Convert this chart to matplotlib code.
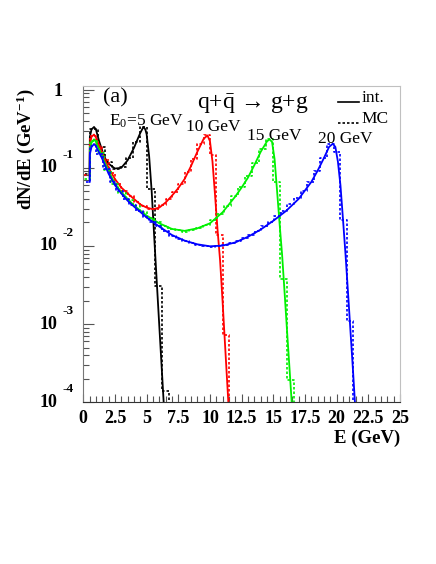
import numpy as np
import matplotlib
matplotlib.use('Agg')
import matplotlib.pyplot as plt
from matplotlib.ticker import LogLocator, NullFormatter

plt.rcParams['font.family'] = ['Liberation Serif', 'DejaVu Serif']
plt.rcParams['mathtext.fontset'] = 'custom'
plt.rcParams['mathtext.rm'] = 'Liberation Serif'
plt.rcParams['mathtext.it'] = 'Liberation Serif:italic'
plt.rcParams['mathtext.bf'] = 'Liberation Serif:bold'

# integrated spectra (solid), E in GeV
e_black = [0.5, 0.52, 0.65, 0.85, 1.0, 1.25, 1.5, 1.75, 2.0, 2.5, 3.0, 3.5, 4.0, 4.25, 4.5,
           4.75, 4.9, 5.0, 5.2, 5.4, 5.6, 5.8, 6.0, 6.2, 6.4]
v_black = [0.083, 0.25, 0.31, 0.334, 0.31, 0.22, 0.165, 0.13, 0.113, 0.098, 0.1, 0.125, 0.18,
           0.225, 0.28, 0.335, 0.31, 0.27, 0.14, 0.05, 0.013, 0.0035, 0.00095, 0.00026, 0.00007]

e_red = [0.5, 0.52, 0.65, 0.85, 1.0, 1.5, 2.0, 2.5, 3.0, 3.5, 4.0, 4.5, 5.0, 5.5, 6.0, 6.5, 7.0,
         7.5, 8.0, 8.5, 9.0, 9.5, 9.8, 10.0, 10.2, 10.4, 10.6, 10.8, 11.0, 11.2, 11.45]
v_red = [0.08, 0.2, 0.25, 0.267, 0.245, 0.155, 0.1, 0.072, 0.056, 0.047, 0.04, 0.034, 0.031,
         0.0295, 0.031, 0.036, 0.044, 0.055, 0.072, 0.105, 0.16, 0.235, 0.26, 0.22, 0.12, 0.045,
         0.016, 0.0065, 0.0019, 0.00051, 0.0001]

e_green = [0.5, 0.52, 0.65, 0.85, 1.0, 1.5, 2.0, 2.5, 3.0, 3.5, 4.0, 5.0, 6.0, 7.0, 8.0, 9.0,
           10.0, 11.0, 12.0, 12.5, 13.0, 13.5, 14.0, 14.5, 14.7, 14.9, 15.1, 15.3, 15.5, 15.7,
           15.9, 16.1, 16.3, 16.5]
v_green = [0.073, 0.17, 0.21, 0.232, 0.215, 0.14, 0.09, 0.063, 0.049, 0.04, 0.033, 0.0245,
           0.0195, 0.0165, 0.0156, 0.0168, 0.0195, 0.027, 0.043, 0.056, 0.075, 0.108, 0.16,
           0.218, 0.232, 0.215, 0.13, 0.05, 0.019, 0.0075, 0.0024, 0.00075, 0.00024, 0.000075]

e_blue = [0.5, 0.52, 0.65, 0.85, 1.0, 1.5, 2.0, 2.5, 3.0, 3.5, 4.0, 5.0, 6.0, 7.0, 8.0, 9.0,
          10.0, 11.0, 12.0, 13.0, 14.0, 15.0, 16.0, 17.0, 18.0, 18.5, 19.0, 19.4, 19.7, 19.9,
          20.1, 20.3, 20.5, 20.7, 20.9, 21.1, 21.3, 21.5]
v_blue = [0.066, 0.15, 0.185, 0.202, 0.19, 0.13, 0.084, 0.06, 0.047, 0.038, 0.032, 0.0232,
          0.0177, 0.0138, 0.0117, 0.0105, 0.0099, 0.0101, 0.0111, 0.0131, 0.0162, 0.021, 0.028,
          0.04, 0.066, 0.092, 0.134, 0.185, 0.204, 0.185, 0.12, 0.06, 0.022, 0.0078, 0.0025,
          0.00077, 0.00024, 0.00007]

# MC histograms (dotted), bin contents from E=0
w_black = 0.5625
mc_black = [0.083, 0.315, 0.185, 0.12, 0.097, 0.104, 0.135, 0.215, 0.33, 0.054, 0.0031, 0.00014]

w_red = 0.5
mc_red = [0.08, 0.255, 0.19, 0.125, 0.085, 0.063, 0.051, 0.043, 0.037, 0.0325, 0.0298, 0.0295,
          0.033, 0.04, 0.049, 0.063, 0.088, 0.13, 0.2, 0.26, 0.147, 0.014, 0.00073]

w_green = 0.5556
mc_green = [0.073, 0.222, 0.155, 0.094, 0.063, 0.048, 0.039, 0.032, 0.027, 0.023, 0.0205, 0.018,
            0.0165, 0.016, 0.0152, 0.016, 0.0172, 0.0188, 0.0215, 0.026, 0.032, 0.043, 0.057,
            0.078, 0.115, 0.175, 0.232, 0.066, 0.0038, 0.00019]

w_blue = 0.52
mc_blue = [0.066, 0.19, 0.15, 0.098, 0.066, 0.05, 0.04, 0.033, 0.028, 0.0235, 0.02, 0.0178,
           0.0155, 0.0136, 0.0124, 0.0115, 0.011, 0.0104, 0.01, 0.0097, 0.0099, 0.0102, 0.0109,
           0.0117, 0.0126, 0.014, 0.0156, 0.0178, 0.02, 0.024, 0.028, 0.034, 0.041, 0.05, 0.066,
           0.09, 0.135, 0.2, 0.16, 0.0217, 0.0011]

xtick_vals = [0, 2.5, 5, 7.5, 10, 12.5, 15, 17.5, 20, 22.5, 25]
xtick_labels = ['0', '2.5', '5', '7.5', '10', '12.5', '15', '17.5', '20', '22.5', '25']
ytick_vals = [1e-4, 1e-3, 1e-2, 1e-1, 1]
ytick_base = ['10', '10', '10', '10', '1']
ytick_exp = ['-4', '-3', '-2', '-1', '']

YTOP = 1.13
YBOT = 1e-4

fig = plt.figure(figsize=(4.36, 5.64), dpi=100)
ax = fig.add_axes([0.191, 0.287, 0.7264, 0.5612])
ax.set_yscale('log')
ax.set_xlim(0, 25)
ax.set_ylim(YBOT, YTOP)


def draw_mc(vals, width, color):
    edges = np.arange(len(vals) + 1) * width
    xs = np.repeat(edges, 2)
    ys = np.concatenate([[YTOP], np.repeat(vals, 2), [YBOT * 0.1]])
    ax.plot(xs, ys, color=color, lw=1.2, ls=(0, (1.5, 1.2)))


series = [
    ('black', e_black, v_black, mc_black, w_black),
    ('#ff0000', e_red, v_red, mc_red, w_red),
    ('#00f000', e_green, v_green, mc_green, w_green),
    ('#0000ff', e_blue, v_blue, mc_blue, w_blue),
]
for color, e, v, mc, w in series:
    draw_mc(mc, w, color)
    ax.plot(e, v, color=color, lw=1.3)

# axes styling
ax.spines['left'].set_color('#777777')
ax.spines['bottom'].set_color('#333333')
ax.spines['top'].set_color('#c0c0c0')
ax.spines['right'].set_color('#c0c0c0')

ax.set_xticks(xtick_vals)
ax.set_xticklabels(xtick_labels, fontsize=13, fontweight='bold')
ax.set_xticks(np.arange(0, 25.01, 0.5), minor=True)
ax.set_yticks(ytick_vals)
ax.set_yticklabels([])
ax.yaxis.set_minor_locator(LogLocator(base=10, subs=np.arange(2, 10)))
ax.yaxis.set_minor_formatter(NullFormatter())
ax.tick_params(axis='both', which='both', direction='in', top=False, right=False,
               color='#555555', width=0.8)
ax.tick_params(axis='x', which='major', length=6, pad=6)
ax.tick_params(axis='x', which='minor', length=4)
ax.tick_params(axis='y', which='major', length=8)
ax.tick_params(axis='y', which='minor', length=4)

ytrans = ax.get_yaxis_transform()
for val, base, ex in zip(ytick_vals, ytick_base, ytick_exp):
    if ex:
        ax.annotate(base, xy=(0, val), xycoords=ytrans, xytext=(-18.7, 0),
                    textcoords='offset points', ha='right', va='center',
                    fontsize=13, fontweight='bold', annotation_clip=False)
        ax.annotate(ex, xy=(0, val), xycoords=ytrans, xytext=(-14.6, 9.4),
                    textcoords='offset points', ha='left', va='center',
                    fontsize=9.5, fontweight='bold', annotation_clip=False)
    else:
        ax.annotate(base, xy=(0, val), xycoords=ytrans, xytext=(-15.3, -1.4),
                    textcoords='offset points', ha='right', va='center',
                    fontsize=13, fontweight='bold', annotation_clip=False)

ax.text(-0.182, 0.80, r'dN/dE (GeV$^{\mathbf{-1}}$)', transform=ax.transAxes,
        rotation=90, ha='center', va='center', fontsize=13.5, fontweight='bold')
ax.text(1.0, -0.113, 'E (GeV)', transform=ax.transAxes, ha='right', va='center',
        fontsize=13.5, fontweight='bold')

# annotations
ax.text(2.5, 0.79, '(a)', ha='center', va='center', fontsize=16)
ax.text(4.97, 0.347, r'E$_0$=5 GeV', ha='center', va='baseline', fontsize=12.5)
ax.text(10.26, 0.294, '10 GeV', ha='center', va='baseline', fontsize=12.5)
ax.text(15.09, 0.230, '15 GeV', ha='center', va='baseline', fontsize=12.5)
ax.text(20.7, 0.21, '20 GeV', ha='center', va='baseline', fontsize=12.5)
ax.text(13.35, 0.574, r'q+$\bar{\mathrm{q}}\,\rightarrow\,$g+g', ha='center', va='baseline',
        fontsize=17)

# legend
ax.plot([0.805, 0.872], [0.949, 0.949], color='black', lw=1.2, transform=ax.transAxes)
ax.plot([0.805, 0.872], [0.881, 0.881], color='black', lw=1.2, ls=(0, (1.5, 1.2)),
        transform=ax.transAxes)
ax.text(0.879, 0.949, 'int.', transform=ax.transAxes, ha='left', va='baseline', fontsize=12.5)
ax.text(0.879, 0.881, 'MC', transform=ax.transAxes, ha='left', va='baseline', fontsize=12.5)

fig.savefig('out.png', dpi=100)
